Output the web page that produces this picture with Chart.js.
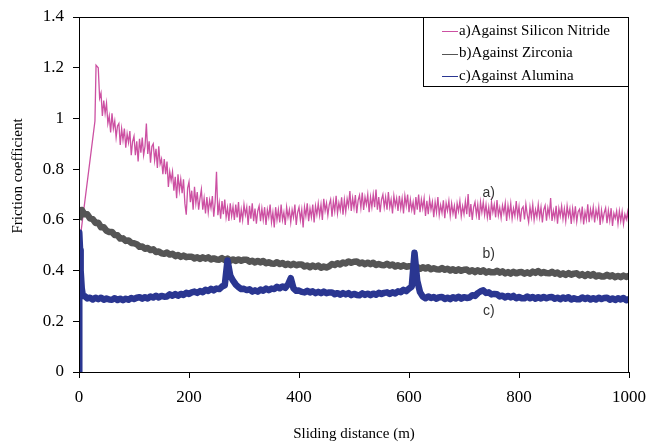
<!DOCTYPE html>
<html>
<head>
<meta charset="utf-8">
<script src="https://cdn.jsdelivr.net/npm/chart.js@4.4.1/dist/chart.umd.min.js"></script>
<style>
  html, body { margin: 0; padding: 0; background: #fff; }
  #wrap { width: 650px; height: 444px; position: relative; }
</style>
</head>
<body>
<div id="wrap"><canvas id="frictionChart"></canvas></div>
<script>
// eixos
const xTicks = [0, 200, 400, 600, 800, 1000];
const yTicks = [0, 0.2, 0.4, 0.6, 0.8, 1, 1.2, 1.4];
const xTitle = 'Sliding distance (m)';
const yTitle = 'Friction coefficient';
const seriesNames = ['a)Against Silicon Nitride', 'b)Against Zirconia', 'c)Against Alumina'];
const curveLabels = ['a)', 'b)', 'c)'];
const curveLabelX = [745, 745, 745];
const curveLabelY = [0.706, 0.465, 0.24];

// a) Silicon Nitride: ramp-up, then readings every 2.5 m from 35 m
const nitrideStartDist = [0, 29, 31];
const nitrideStartVal = [0.49, 0.99, 1.21];
const nitrideVal = [
  1.20, 1.08, 1.10, 1.01, 1.07, 1.02, 1.06, 0.98, 1.01, 0.945, 1.02, 0.96, 0.99, 0.925, 0.97, 0.98, 0.895, 0.96, 0.915, 0.96,
  0.885, 0.94, 0.905, 0.95, 0.855, 0.91, 0.93, 0.855, 0.91, 0.83, 0.92, 0.865, 0.925, 0.855, 0.89, 0.98, 0.86, 0.91, 0.825, 0.89,
  0.90, 0.835, 0.88, 0.805, 0.89, 0.82, 0.84, 0.78, 0.84, 0.78, 0.83, 0.73, 0.79, 0.755, 0.79, 0.715, 0.77, 0.685, 0.78, 0.715,
  0.76, 0.705, 0.76, 0.665, 0.62, 0.725, 0.75, 0.67, 0.715, 0.64, 0.73, 0.665, 0.71, 0.64, 0.685, 0.72, 0.64, 0.685, 0.625, 0.69,
  0.63, 0.678, 0.646, 0.694, 0.612, 0.67, 0.79, 0.618, 0.666, 0.605, 0.674, 0.622, 0.68, 0.61, 0.648, 0.596, 0.665, 0.614, 0.652, 0.60,
  0.66, 0.61, 0.67, 0.59, 0.64, 0.60, 0.66, 0.62, 0.65, 0.58, 0.655, 0.605, 0.665, 0.595, 0.645, 0.585, 0.635, 0.655, 0.595, 0.645,
  0.60, 0.65, 0.58, 0.64, 0.61, 0.66, 0.59, 0.63, 0.57, 0.65, 0.60, 0.64, 0.59, 0.66, 0.60, 0.63, 0.58, 0.65, 0.61, 0.64,
  0.59, 0.64, 0.61, 0.66, 0.58, 0.63, 0.65, 0.60, 0.64, 0.57, 0.65, 0.615, 0.665, 0.595, 0.645, 0.61, 0.66, 0.59, 0.655, 0.62,
  0.665, 0.617, 0.66, 0.60, 0.683, 0.635, 0.666, 0.618, 0.66, 0.68, 0.612, 0.673, 0.634, 0.695, 0.626, 0.667, 0.638, 0.689, 0.62, 0.68,
  0.632, 0.683, 0.653, 0.714, 0.635, 0.686, 0.647, 0.698, 0.626, 0.677, 0.697, 0.648, 0.708, 0.639, 0.69, 0.66, 0.70, 0.63, 0.69, 0.65,
  0.70, 0.65, 0.72, 0.64, 0.69, 0.63, 0.68, 0.70, 0.65, 0.69, 0.64, 0.71, 0.65, 0.68, 0.625, 0.695, 0.655, 0.685, 0.635, 0.695,
  0.645, 0.685, 0.625, 0.695, 0.655, 0.70, 0.63, 0.68, 0.64, 0.67, 0.62, 0.69, 0.64, 0.70, 0.63, 0.68, 0.645, 0.685, 0.615, 0.675,
  0.622, 0.682, 0.641, 0.671, 0.611, 0.67, 0.63, 0.69, 0.619, 0.658, 0.628, 0.677, 0.607, 0.666, 0.636, 0.675, 0.616, 0.665, 0.625, 0.655,
  0.605, 0.665, 0.634, 0.674, 0.614, 0.654, 0.623, 0.673, 0.622, 0.702, 0.612, 0.662, 0.60, 0.65, 0.67, 0.62, 0.66, 0.60, 0.67, 0.63,
  0.67, 0.62, 0.66, 0.61, 0.65, 0.60, 0.67, 0.63, 0.66, 0.61, 0.678, 0.618, 0.648, 0.608, 0.657, 0.627, 0.666, 0.596, 0.656, 0.616,
  0.665, 0.605, 0.645, 0.615, 0.674, 0.614, 0.653, 0.593, 0.643, 0.652, 0.602, 0.662, 0.621, 0.591, 0.651, 0.611, 0.66, 0.60, 0.64, 0.61,
  0.66, 0.61, 0.65, 0.59, 0.64, 0.657, 0.597, 0.647, 0.617, 0.686, 0.596, 0.636, 0.606, 0.655, 0.585, 0.645, 0.615, 0.654, 0.604, 0.644,
  0.595, 0.655, 0.615, 0.644, 0.584, 0.644, 0.603, 0.653, 0.593, 0.632, 0.642, 0.602, 0.652, 0.582, 0.631, 0.601, 0.661, 0.591, 0.641, 0.61,
  0.65, 0.59, 0.64, 0.61, 0.65, 0.58, 0.638, 0.598, 0.628, 0.647, 0.587, 0.637, 0.597, 0.646, 0.576, 0.626, 0.606, 0.635, 0.585, 0.635,
  0.595, 0.633, 0.583, 0.622, 0.602, 0.63, 0.57
];

// b) Zirconia: every 5 m from 5 m
const zirconiaStartDist = [0];
const zirconiaStartVal = [0.60];
const zirconiaVal = [
  0.639, 0.622, 0.622, 0.606, 0.603, 0.588, 0.589, 0.571, 0.571, 0.557,
  0.552, 0.552, 0.540, 0.539, 0.526, 0.527, 0.517, 0.519, 0.509, 0.508,
  0.504, 0.494, 0.495, 0.486, 0.489, 0.481, 0.484, 0.473, 0.475, 0.468,
  0.466, 0.471, 0.463, 0.466, 0.457, 0.461, 0.454, 0.459, 0.453, 0.455,
  0.455, 0.448, 0.452, 0.446, 0.452, 0.447, 0.452, 0.444, 0.448, 0.444,
  0.443, 0.449, 0.442, 0.447, 0.439, 0.444, 0.438, 0.444, 0.439, 0.443,
  0.443, 0.435, 0.439, 0.432, 0.438, 0.432, 0.438, 0.429, 0.433, 0.428,
  0.427, 0.433, 0.426, 0.430, 0.422, 0.427, 0.421, 0.427, 0.421, 0.424,
  0.424, 0.416, 0.420, 0.413, 0.420, 0.414, 0.420, 0.411, 0.416, 0.412,
  0.417, 0.426, 0.422, 0.429, 0.424, 0.432, 0.428, 0.436, 0.431, 0.435,
  0.436, 0.428, 0.432, 0.425, 0.431, 0.425, 0.431, 0.422, 0.426, 0.422,
  0.421, 0.427, 0.420, 0.424, 0.416, 0.421, 0.415, 0.421, 0.415, 0.417,
  0.417, 0.409, 0.414, 0.407, 0.413, 0.408, 0.413, 0.405, 0.409, 0.405,
  0.404, 0.410, 0.403, 0.407, 0.400, 0.405, 0.399, 0.405, 0.399, 0.403,
  0.404, 0.396, 0.401, 0.394, 0.401, 0.395, 0.401, 0.392, 0.397, 0.393,
  0.393, 0.399, 0.392, 0.397, 0.389, 0.394, 0.388, 0.395, 0.389, 0.393,
  0.394, 0.388, 0.393, 0.388, 0.396, 0.391, 0.398, 0.390, 0.394, 0.390,
  0.389, 0.395, 0.388, 0.392, 0.384, 0.389, 0.383, 0.390, 0.384, 0.388,
  0.389, 0.381, 0.386, 0.379, 0.386, 0.380, 0.386, 0.377, 0.381, 0.377,
  0.377, 0.383, 0.377, 0.381, 0.374, 0.379, 0.374, 0.380, 0.375, 0.379
];

// c) Alumina: running-in spike, then every 5 m from 10 m
const aluminaStartDist = [0, 0.5, 2, 3, 5, 7];
const aluminaStartVal = [0, 0.55, 0.48, 0.40, 0.33, 0.30];
const aluminaVal = [
  0.300, 0.290, 0.293, 0.286, 0.293, 0.287, 0.293, 0.285, 0.290, 0.286,
  0.285, 0.291, 0.284, 0.289, 0.283, 0.289, 0.285, 0.292, 0.288, 0.293,
  0.295, 0.289, 0.295, 0.290, 0.298, 0.294, 0.301, 0.294, 0.300, 0.297,
  0.298, 0.306, 0.301, 0.307, 0.301, 0.308, 0.304, 0.312, 0.308, 0.314,
  0.317, 0.312, 0.319, 0.315, 0.324, 0.320, 0.328, 0.322, 0.329, 0.327,
  0.337, 0.342, 0.440, 0.380, 0.360, 0.345, 0.335, 0.327, 0.328, 0.323,
  0.326, 0.317, 0.322, 0.317, 0.325, 0.321, 0.329, 0.323, 0.329, 0.327,
  0.336, 0.330, 0.337, 0.332, 0.345, 0.370, 0.330, 0.320, 0.321, 0.316,
  0.314, 0.320, 0.314, 0.318, 0.311, 0.316, 0.311, 0.317, 0.311, 0.314,
  0.314, 0.307, 0.311, 0.305, 0.311, 0.306, 0.311, 0.303, 0.308, 0.304,
  0.303, 0.310, 0.304, 0.309, 0.303, 0.309, 0.305, 0.312, 0.308, 0.312,
  0.314, 0.308, 0.314, 0.310, 0.318, 0.315, 0.324, 0.319, 0.329, 0.337,
  0.470, 0.360, 0.315, 0.298, 0.291, 0.298, 0.292, 0.296, 0.289, 0.295,
  0.296, 0.288, 0.293, 0.287, 0.295, 0.290, 0.297, 0.289, 0.295, 0.292,
  0.294, 0.303, 0.300, 0.311, 0.318, 0.322, 0.312, 0.314, 0.306, 0.308,
  0.307, 0.298, 0.301, 0.294, 0.300, 0.294, 0.300, 0.291, 0.296, 0.291,
  0.291, 0.298, 0.291, 0.296, 0.289, 0.295, 0.290, 0.296, 0.291, 0.295,
  0.296, 0.289, 0.293, 0.287, 0.294, 0.289, 0.295, 0.286, 0.291, 0.287,
  0.287, 0.294, 0.288, 0.293, 0.286, 0.291, 0.286, 0.293, 0.288, 0.292,
  0.293, 0.285, 0.290, 0.284, 0.291, 0.286, 0.292, 0.283, 0.288
];

const colors = ['#cc50a2', '#555555', '#2a3691'];
const serif = "'Liberation Serif', 'Times New Roman', serif";

// monta pares {x, y}: pontos iniciais + leituras com passo fixo
const toPoints = (startDist, startVal, firstDist, step, vals) =>
  startDist.map((d, i) => ({ x: d, y: startVal[i] }))
    .concat(vals.map((v, i) => ({ x: firstDist + step * i, y: v })));

const nitridePts = toPoints(nitrideStartDist, nitrideStartVal, 35, 2.5, nitrideVal);
const zirconiaPts = toPoints(zirconiaStartDist, zirconiaStartVal, 5, 5, zirconiaVal);
const aluminaPts = toPoints(aluminaStartDist, aluminaStartVal, 10, 5, aluminaVal);

// moldura, legenda, rótulos a) b) c) e títulos dos eixos
const extrasPlugin = {
  id: 'extras',
  afterDatasetsDraw(chart) {
    const { ctx, chartArea: a, scales } = chart;
    ctx.save();
    ctx.strokeStyle = '#000';
    ctx.lineWidth = 1;
    ctx.strokeRect(a.left + 0.5, a.top + 0.5, a.right - a.left - 1, a.bottom - a.top);

    // rótulos das curvas
    ctx.fillStyle = '#333';
    ctx.font = "14px 'Liberation Sans', Arial, sans-serif";
    ctx.textAlign = 'center';
    ctx.textBaseline = 'middle';
    curveLabels.forEach((t, i) => {
      ctx.fillText(t, scales.x.getPixelForValue(curveLabelX[i]), scales.y.getPixelForValue(curveLabelY[i]));
    });

    // legenda
    const lx = a.right - 206, ly = a.top, lw = 206, lh = 69;
    ctx.fillStyle = '#fff';
    ctx.fillRect(lx, ly, lw, lh);
    ctx.strokeStyle = '#000';
    ctx.strokeRect(lx + 0.5, ly + 0.5, lw - 1, lh);
    ctx.font = '15px ' + serif;
    ctx.textAlign = 'left';
    chart.data.datasets.forEach((ds, i) => {
      const y = ly + 14 + i * 22.5;
      ctx.strokeStyle = ds.borderColor;
      ctx.lineWidth = 1;
      ctx.beginPath();
      ctx.moveTo(lx + 19, Math.round(y) + 0.5);
      ctx.lineTo(lx + 35, Math.round(y) + 0.5);
      ctx.stroke();
      ctx.fillStyle = '#000';
      ctx.fillText(ds.label, lx + 36, y);
    });

    // títulos dos eixos
    ctx.fillStyle = '#000';
    ctx.font = '15px ' + serif;
    ctx.textAlign = 'center';
    ctx.fillText(xTitle, (a.left + a.right) / 2, 434);
    ctx.translate(18, 176);
    ctx.rotate(-Math.PI / 2);
    ctx.fillText(yTitle, 0, 0);
    ctx.restore();
  }
};

new Chart(document.getElementById('frictionChart'), {
  type: 'line',
  data: {
    datasets: [
      { label: seriesNames[0], data: nitridePts, borderColor: colors[0], borderWidth: 1.3, order: 2 },
      { label: seriesNames[1], data: zirconiaPts, borderColor: colors[1], borderWidth: 6.5, borderJoinStyle: 'round', order: 1 },
      { label: seriesNames[2], data: aluminaPts, borderColor: colors[2], borderWidth: 6.5, borderJoinStyle: 'round', order: 0 }
    ]
  },
  options: {
    responsive: true, maintainAspectRatio: false, animation: false,
    elements: { point: { radius: 0 }, line: { tension: 0 } },
    layout: { padding: { top: 17, right: 21, left: 0, bottom: 0 } },
    plugins: { legend: { display: false }, tooltip: { enabled: false } },
    scales: {
      x: {
        type: 'linear', min: 0, max: 1000,
        afterBuildTicks: (s) => { s.ticks = xTicks.map(v => ({ value: v })); },
        afterFit: (s) => { s.height = 72; s.paddingLeft = 0; s.paddingRight = 0; },
        grid: { drawOnChartArea: false, tickLength: 6, color: '#000' },
        border: { color: '#000' },
        ticks: { color: '#000', padding: 9, maxRotation: 0, callback: (v) => String(v), font: { family: serif, size: 17 } }
      },
      y: {
        min: 0, max: 1.4,
        afterBuildTicks: (s) => { s.ticks = yTicks.map(v => ({ value: v })); },
        afterFit: (s) => { s.width = 79; s.paddingTop = 0; s.paddingBottom = 0; },
        grid: { drawOnChartArea: false, tickLength: 6, color: '#000' },
        border: { color: '#000' },
        ticks: { color: '#000', padding: 9, callback: (v) => String(Math.round(v * 10) / 10), font: { family: serif, size: 17 } }
      }
    }
  },
  plugins: [extrasPlugin]
});
</script>
</body>
</html>
